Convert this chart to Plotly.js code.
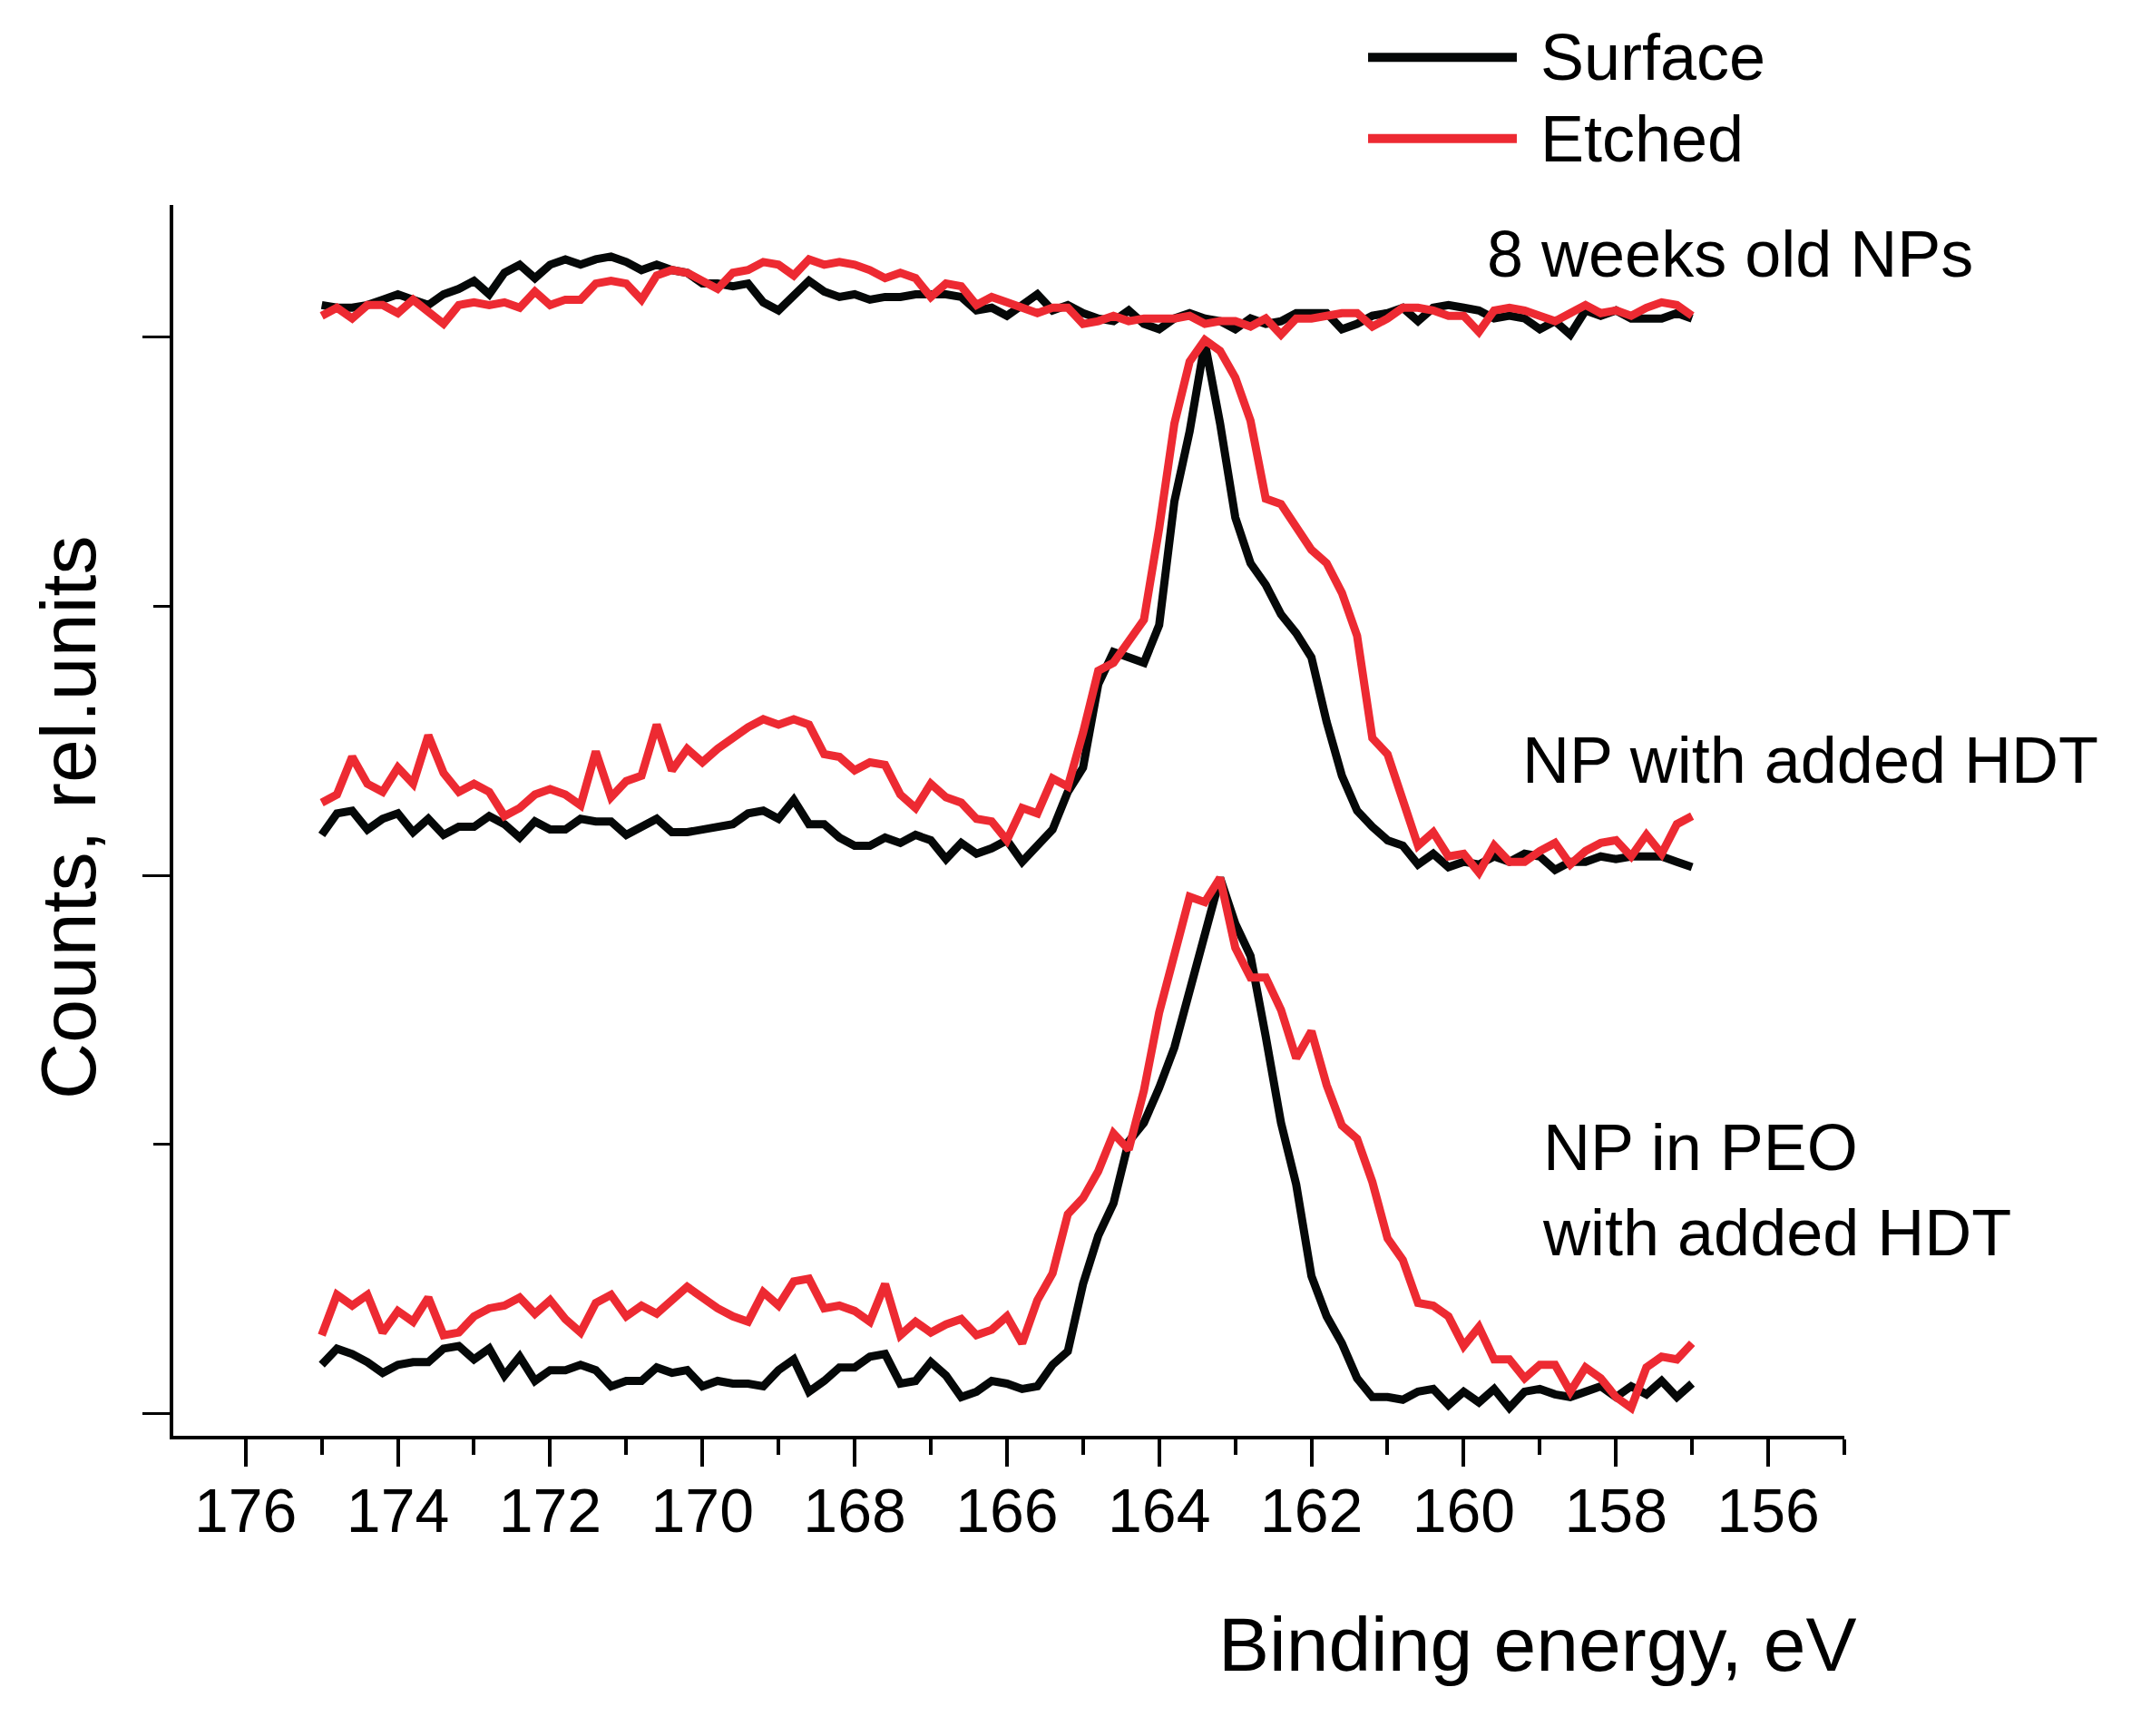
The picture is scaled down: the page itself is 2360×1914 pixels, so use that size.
<!DOCTYPE html>
<html>
<head>
<meta charset="utf-8">
<script src="https://cdn.plot.ly/plotly-3.0.1.min.js"></script>
<style>
  html, body { margin: 0; padding: 0; background: #fff; }
  #chart { width: 2360px; height: 1914px; }
</style>
</head>
<body>
<div id="chart"></div>
<script>
// binding energy grid, eV (0.2 eV step)
const energy = [
  175.0, 174.8, 174.6, 174.4, 174.2, 174.0, 173.8, 173.6, 173.4, 173.2,
  173.0, 172.8, 172.6, 172.4, 172.2, 172.0, 171.8, 171.6, 171.4, 171.2,
  171.0, 170.8, 170.6, 170.4, 170.2, 170.0, 169.8, 169.6, 169.4, 169.2,
  169.0, 168.8, 168.6, 168.4, 168.2, 168.0, 167.8, 167.6, 167.4, 167.2,
  167.0, 166.8, 166.6, 166.4, 166.2, 166.0, 165.8, 165.6, 165.4, 165.2,
  165.0, 164.8, 164.6, 164.4, 164.2, 164.0, 163.8, 163.6, 163.4, 163.2,
  163.0, 162.8, 162.6, 162.4, 162.2, 162.0, 161.8, 161.6, 161.4, 161.2,
  161.0, 160.8, 160.6, 160.4, 160.2, 160.0, 159.8, 159.6, 159.4, 159.2,
  159.0, 158.8, 158.6, 158.4, 158.2, 158.0, 157.8, 157.6, 157.4, 157.2,
  157.0
];

// stacked spectra, rel. units (offset already included)
const surface8wk = [
  4.12, 4.11, 4.11, 4.12, 4.14, 4.16, 4.14, 4.12, 4.16, 4.18,
  4.21, 4.16, 4.24, 4.27, 4.22, 4.27, 4.29, 4.27, 4.29, 4.30,
  4.28, 4.25, 4.27, 4.25, 4.24, 4.20, 4.20, 4.19, 4.20, 4.13,
  4.10, 4.16, 4.21, 4.17, 4.15, 4.16, 4.14, 4.15, 4.15, 4.16,
  4.16, 4.16, 4.15, 4.10, 4.11, 4.08, 4.12, 4.16, 4.10, 4.12,
  4.09, 4.07, 4.06, 4.10, 4.05, 4.03, 4.07, 4.09, 4.07, 4.06,
  4.03, 4.07, 4.05, 4.06, 4.09, 4.09, 4.09, 4.03, 4.05, 4.08,
  4.09, 4.11, 4.06, 4.11, 4.12, 4.11, 4.10, 4.07, 4.08, 4.07,
  4.03, 4.06, 4.01, 4.10, 4.08, 4.10, 4.07, 4.07, 4.07, 4.09,
  4.07
];
const etched8wk = [
  4.08, 4.11, 4.07, 4.12, 4.12, 4.09, 4.14, 4.09, 4.05, 4.12,
  4.13, 4.12, 4.13, 4.11, 4.17, 4.12, 4.14, 4.14, 4.20, 4.21,
  4.20, 4.14, 4.23, 4.25, 4.24, 4.21, 4.18, 4.24, 4.25, 4.28,
  4.27, 4.23, 4.29, 4.27, 4.28, 4.27, 4.25, 4.22, 4.24, 4.22,
  4.15, 4.20, 4.19, 4.12, 4.15, 4.13, 4.11, 4.09, 4.11, 4.11,
  4.05, 4.06, 4.08, 4.06, 4.07, 4.07, 4.07, 4.08, 4.05, 4.06,
  4.06, 4.04, 4.07, 4.01, 4.07, 4.07, 4.08, 4.09, 4.09, 4.04,
  4.07, 4.11, 4.11, 4.10, 4.08, 4.08, 4.02, 4.10, 4.11, 4.10,
  4.08, 4.06, 4.09, 4.12, 4.09, 4.10, 4.08, 4.11, 4.13, 4.12,
  4.08
];
const surfaceHDT = [
  2.15, 2.23, 2.24, 2.17, 2.21, 2.23, 2.16, 2.21, 2.15, 2.18,
  2.18, 2.22, 2.19, 2.14, 2.20, 2.17, 2.17, 2.21, 2.20, 2.20,
  2.15, 2.18, 2.21, 2.16, 2.16, 2.17, 2.18, 2.19, 2.23, 2.24,
  2.21, 2.28, 2.19, 2.19, 2.14, 2.11, 2.11, 2.14, 2.12, 2.15,
  2.13, 2.06, 2.12, 2.08, 2.10, 2.13, 2.05, 2.11, 2.17, 2.31,
  2.40, 2.71, 2.83, 2.81, 2.79, 2.93, 3.39, 3.65, 3.98, 3.68,
  3.33, 3.16, 3.08, 2.97, 2.90, 2.81, 2.57, 2.37, 2.24, 2.18,
  2.13, 2.11, 2.04, 2.08, 2.03, 2.05, 2.04, 2.07, 2.05, 2.08,
  2.07, 2.02, 2.05, 2.05, 2.07, 2.06, 2.07, 2.07, 2.07, 2.05,
  2.03
];
const etchedHDT = [
  2.27, 2.30, 2.44, 2.34, 2.31, 2.40, 2.34, 2.52, 2.38, 2.31,
  2.34, 2.31, 2.22, 2.25, 2.30, 2.32, 2.30, 2.26, 2.46, 2.29,
  2.35, 2.37, 2.56, 2.39, 2.47, 2.42, 2.47, 2.51, 2.55, 2.58,
  2.56, 2.58, 2.56, 2.45, 2.44, 2.39, 2.42, 2.41, 2.30, 2.25,
  2.34, 2.29, 2.27, 2.21, 2.20, 2.13, 2.25, 2.23, 2.36, 2.33,
  2.53, 2.76, 2.79, 2.87, 2.95, 3.29, 3.68, 3.91, 3.99, 3.95,
  3.85, 3.69, 3.40, 3.38, 3.29, 3.21, 3.16, 3.05, 2.89, 2.51,
  2.45, 2.28, 2.11, 2.16, 2.07, 2.08, 2.01, 2.11, 2.05, 2.05,
  2.09, 2.12, 2.04, 2.09, 2.12, 2.13, 2.07, 2.15, 2.08, 2.19,
  2.22
];
const surfacePEO = [
  0.18, 0.24, 0.22, 0.19, 0.15, 0.18, 0.19, 0.19, 0.24, 0.25,
  0.20, 0.24, 0.14, 0.21, 0.12, 0.16, 0.16, 0.18, 0.16, 0.10,
  0.12, 0.12, 0.17, 0.15, 0.16, 0.10, 0.12, 0.11, 0.11, 0.10,
  0.16, 0.20, 0.08, 0.12, 0.17, 0.17, 0.21, 0.22, 0.11, 0.12,
  0.19, 0.14, 0.06, 0.08, 0.12, 0.11, 0.09, 0.10, 0.18, 0.23,
  0.48, 0.66, 0.78, 1.01, 1.08, 1.21, 1.36, 1.57, 1.80, 1.99,
  1.82, 1.70, 1.40, 1.08, 0.85, 0.51, 0.36, 0.26, 0.13, 0.06,
  0.06, 0.05, 0.08, 0.09, 0.03, 0.08, 0.04, 0.09, 0.02, 0.08,
  0.09, 0.07, 0.06, 0.08, 0.10, 0.06, 0.10, 0.07, 0.12, 0.06,
  0.11
];
const etchedPEO = [
  0.29, 0.44, 0.40, 0.44, 0.30, 0.38, 0.34, 0.43, 0.29, 0.30,
  0.36, 0.39, 0.40, 0.43, 0.37, 0.42, 0.35, 0.30, 0.41, 0.44,
  0.36, 0.40, 0.37, 0.42, 0.47, 0.43, 0.39, 0.36, 0.34, 0.45,
  0.40, 0.49, 0.50, 0.39, 0.40, 0.38, 0.34, 0.48, 0.29, 0.34,
  0.30, 0.33, 0.35, 0.29, 0.31, 0.36, 0.26, 0.42, 0.52, 0.74,
  0.80, 0.90, 1.04, 0.98, 1.20, 1.49, 1.71, 1.92, 1.90, 1.99,
  1.73, 1.62, 1.62, 1.50, 1.32, 1.42, 1.22, 1.07, 1.02, 0.86,
  0.65, 0.57, 0.41, 0.40, 0.36, 0.25, 0.32, 0.20, 0.20, 0.13,
  0.18, 0.18, 0.08, 0.17, 0.13, 0.06, 0.02, 0.17, 0.21, 0.20,
  0.26
];

const FONT = 'Liberation Sans, Arial, sans-serif';
const BLACK = '#050808';
const RED = '#ed2a32';
const LW = 9;

function spectrum(y, color) {
    return { x: energy, y: y, type: 'scatter', mode: 'lines', showlegend: false,
             line: { color: color, width: LW }, hoverinfo: 'skip' };
}

const traces = [
    spectrum(surface8wk, BLACK), spectrum(etched8wk, RED),
    spectrum(surfaceHDT, BLACK), spectrum(etchedHDT, RED),
    spectrum(surfacePEO, BLACK), spectrum(etchedPEO, RED)
];

const txt = (text, x, y, size, extra) => Object.assign({
    text: text, xref: 'paper', yref: 'paper', x: x, y: y,
    xanchor: 'left', yanchor: 'middle', showarrow: false, align: 'left',
    font: { family: FONT, size: size, color: '#000' }
}, extra || {});

const layout = {
    width: 2360, height: 1914,
    paper_bgcolor: '#fff', plot_bgcolor: '#fff',
    font: { family: FONT, color: '#000' },
    margin: { l: 191, r: 327, t: 226, b: 331 },
    showlegend: false,
    xaxis: {
        range: [176.95, 155], autorange: false,
        showline: true, linecolor: '#000', linewidth: 4,
        showgrid: false, zeroline: false,
        ticks: 'outside', ticklen: 30, tickwidth: 4, tickcolor: '#000',
        tick0: 0, dtick: 2, ticklabelstandoff: -10,
        tickfont: { family: FONT, size: 68, color: '#000' },
        minor: { tick0: 0, dtick: 1, ticks: 'outside', ticklen: 17, tickwidth: 4, tickcolor: '#000', showgrid: false }
    },
    yaxis: {
        range: [-0.084, 4.492], autorange: false,
        showline: true, linecolor: '#000', linewidth: 4,
        showgrid: false, zeroline: false, showticklabels: false,
        ticks: 'outside', ticklen: 30, tickwidth: 3, tickcolor: '#000',
        tick0: 0, dtick: 2,
        minor: { tick0: 0, dtick: 1, ticks: 'outside', ticklen: 18, tickwidth: 3, tickcolor: '#000', showgrid: false }
    },
    // hand-made legend: long line samples like the original
    shapes: [
        { type: 'line', xref: 'paper', yref: 'paper', x0: 0.715, x1: 0.804, y0: 1.120, y1: 1.120, line: { color: BLACK, width: 10 } },
        { type: 'line', xref: 'paper', yref: 'paper', x0: 0.715, x1: 0.804, y0: 1.054, y1: 1.054, line: { color: RED, width: 10 } }
    ],
    annotations: [
        txt('Surface', 0.817, 1.120, 72),
        txt('Etched', 0.817, 1.054, 72),
        txt('8 weeks old NPs', 0.785, 0.960, 72),
        txt('NP with added HDT', 0.806, 0.549, 72),
        txt('NP in PEO<br>with added HDT', 0.818, 0.200, 72),
        txt('Binding energy, eV', 0.8165, -0.1695, 84, { xanchor: 'center' }),
        txt('Counts, rel.units', -0.063, 0.5026, 86, { xanchor: 'center', textangle: -90 })
    ]
};

Plotly.newPlot('chart', traces, layout, { displayModeBar: false, staticPlot: true });
</script>
</body>
</html>
